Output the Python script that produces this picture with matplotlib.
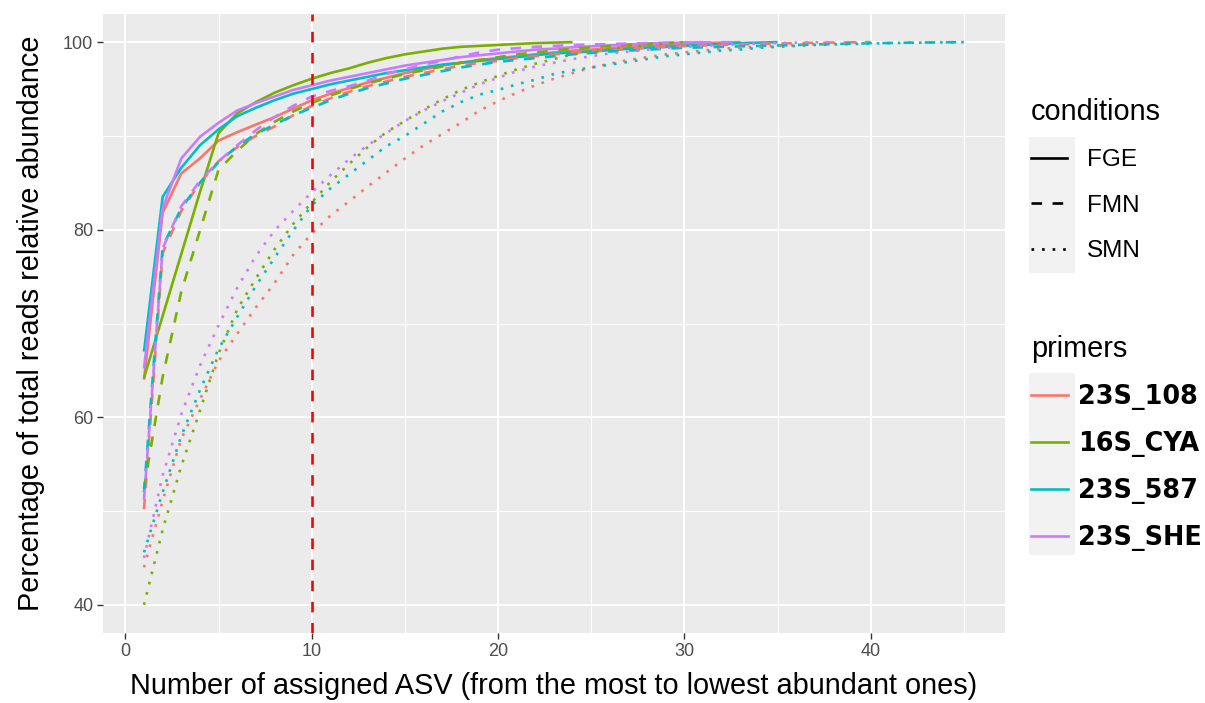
import matplotlib.pyplot as plt
from matplotlib.lines import Line2D
from matplotlib.patches import Rectangle

plt.rcParams['font.family'] = ['Liberation Sans', 'DejaVu Sans']

primers = ["23S_108", "16S_CYA", "23S_587", "23S_SHE"]
conditions = ["FGE", "FMN", "SMN"]
primer_colors = ["#F8766D", "#7CAE00", "#00BFC4", "#C77CFF"]
cutoff_asv = 10

# cumulative % of reads, one value per ASV rank (1, 2, 3, ...)
# FGE
fge_108 = [64.0, 81.8, 86.0, 87.6, 89.5, 90.4, 91.2, 92.0, 92.9, 93.8,
           94.5, 95.1, 95.7, 96.2, 96.7, 97.1, 97.5, 97.8, 98.1, 98.3,
           98.5, 98.7, 98.9, 99.1, 99.2, 99.35, 99.5, 99.6, 99.7, 99.8,
           99.9, 99.95, 100.0]
fge_cya = [64.2, 70.8, 77.4, 84.0, 90.3, 92.4, 93.6, 94.6, 95.4, 96.1,
           96.7, 97.2, 97.8, 98.3, 98.7, 99.0, 99.3, 99.5, 99.6, 99.7,
           99.8, 99.9, 99.95, 100.0]
fge_587 = [67.0, 83.5, 86.6, 89.0, 90.7, 92.1, 93.0, 93.8, 94.5, 95.0,
           95.5, 95.9, 96.3, 96.7, 97.0, 97.3, 97.6, 97.8, 98.0, 98.2,
           98.4, 98.6, 98.8, 98.9, 99.0, 99.15, 99.3, 99.4, 99.5, 99.6,
           99.7, 99.8, 99.9, 99.95, 100.0]
fge_she = [65.2, 82.3, 87.6, 89.9, 91.4, 92.7, 93.5, 94.2, 94.9, 95.4,
           95.9, 96.3, 96.7, 97.1, 97.5, 97.8, 98.1, 98.4, 98.6, 98.8,
           99.0, 99.2, 99.3, 99.45, 99.55, 99.65, 99.75, 99.85, 99.9, 99.95,
           100.0]
# FMN
fmn_108 = [50.2, 77.5, 82.0, 85.0, 87.3, 88.8, 90.0, 91.0, 92.2, 93.2,
           94.0, 94.7, 95.3, 95.8, 96.3, 96.7, 97.1, 97.5, 97.8, 98.0,
           98.3, 98.5, 98.7, 98.9, 99.0, 99.15, 99.3, 99.4, 99.5, 99.6,
           99.65, 99.7, 99.75, 99.8, 99.85, 99.9, 99.93, 99.96, 99.98, 100.0]
fmn_cya = [52.4, 64.3, 73.4, 79.9, 86.4, 88.4, 90.2, 91.5, 92.6, 93.5,
           94.3, 95.0, 95.6, 96.1, 96.6, 97.0, 97.4, 97.8, 98.1, 98.4,
           98.7, 98.9, 99.1, 99.3, 99.45, 99.6, 99.7, 99.8, 99.9, 100.0]
fmn_587 = [52.0, 78.2, 82.3, 85.0, 87.2, 88.9, 90.2, 91.2, 92.2, 93.0,
           93.8, 94.5, 95.1, 95.6, 96.1, 96.5, 96.9, 97.3, 97.6, 97.9,
           98.1, 98.3, 98.5, 98.7, 98.85, 99.0, 99.1, 99.2, 99.3, 99.4,
           99.45, 99.5, 99.55, 99.6, 99.65, 99.7, 99.75, 99.8, 99.84, 99.88,
           99.91, 99.94, 99.96, 99.98, 100.0]
fmn_she = [51.2, 78.0, 82.5, 85.2, 87.3, 89.0, 90.6, 92.0, 93.2, 94.2,
           94.8, 95.3, 95.9, 96.6, 97.1, 97.6, 98.0, 98.5, 98.9, 99.2,
           99.35, 99.5, 99.6, 99.7, 99.75, 99.8, 99.85, 99.9, 99.93, 99.95,
           99.97, 99.99, 100.0]
# SMN
smn_108 = [44.0, 51.1, 57.7, 61.9, 66.0, 68.9, 71.7, 74.3, 77.3, 79.6,
           81.5, 83.0, 84.6, 86.1, 87.6, 89.0, 90.2, 91.4, 92.7, 93.7,
           94.6, 95.4, 96.1, 96.7, 97.3, 97.7, 98.1, 98.4, 98.7, 98.9,
           99.1, 99.3, 99.4, 99.5, 99.6, 99.7, 99.8, 99.9, 99.95, 100.0]
smn_cya = [40.0, 48.0, 54.8, 60.7, 66.8, 71.5, 74.8, 77.9, 80.6, 82.9,
           85.1, 87.0, 88.8, 90.4, 91.6, 92.8, 93.9, 94.9, 95.7, 96.4,
           97.1, 97.7, 98.2, 98.7, 99.0, 99.3, 99.5, 99.7, 99.85, 100.0]
smn_587 = [45.6, 52.0, 58.0, 62.9, 67.3, 70.7, 74.0, 77.0, 79.9, 82.6,
           84.4, 85.9, 87.4, 88.9, 90.0, 91.3, 92.6, 93.6, 94.4, 94.9,
           95.5, 96.0, 96.6, 97.0, 97.3, 97.6, 97.9, 98.2, 98.5, 98.7,
           98.9, 99.1, 99.2, 99.4, 99.5, 99.6, 99.7, 99.75, 99.8, 99.85,
           99.9, 99.93, 99.96, 99.98, 100.0]
smn_she = [45.0, 53.8, 60.3, 65.5, 69.8, 73.8, 77.2, 79.9, 82.0, 84.0,
           85.8, 87.5, 89.0, 90.3, 91.6, 92.7, 93.7, 94.6, 95.5, 96.2,
           96.9, 97.4, 97.8, 98.2, 98.5, 98.8, 99.0, 99.2, 99.4, 99.5,
           99.6, 99.7, 99.8, 99.85, 99.9, 99.95, 99.98, 100.0]

curves = {
    "FGE": [fge_108, fge_cya, fge_587, fge_she],
    "FMN": [fmn_108, fmn_cya, fmn_587, fmn_she],
    "SMN": [smn_108, smn_cya, smn_587, smn_she],
}
styles = {"FGE": "-", "FMN": (0, (4, 4)), "SMN": (0, (1, 3))}
lw = 1.9

fig = plt.figure(figsize=(12.05, 7.03), dpi=100)
ax = fig.add_axes([103 / 1205, 70 / 703, 902 / 1205, 619 / 703])
ax.set_facecolor("#EBEBEB")

for cond in conditions:
    for vals, col in zip(curves[cond], primer_colors):
        xs = list(range(1, len(vals) + 1))
        ax.plot(xs, vals, color=col, lw=lw, linestyle=styles[cond],
                solid_capstyle='butt', dash_capstyle='butt')

ax.axvline(cutoff_asv, color="#FF0000", lw=lw, linestyle=(0, (4, 4)))

ax.set_xlim(-1.2, 47.2)
ax.set_ylim(37, 103)
ax.set_xticks([0, 10, 20, 30, 40])
ax.set_xticks([5, 15, 25, 35, 45], minor=True)
ax.set_yticks([40, 60, 80, 100])
ax.set_yticks([50, 70, 90], minor=True)
ax.grid(which='major', color='white', lw=1.5)
ax.grid(which='minor', color='white', lw=0.8)
ax.set_axisbelow(True)
for s in ax.spines.values():
    s.set_visible(False)
ax.tick_params(which='major', length=4, width=1, color='#333333',
               labelsize=13, labelcolor='#4D4D4D', pad=3)
ax.tick_params(which='minor', length=0)

ax.set_xlabel("Number of assigned ASV (from the most to lowest abundant ones)",
              fontsize=20.8, labelpad=9)
ax.set_ylabel("Percentage of total reads relative abundance",
              fontsize=20.8, labelpad=13)

# legends
cond_handles = [Line2D([], [], color='black', lw=lw, linestyle=styles[c])
                for c in conditions]
leg1 = fig.legend(cond_handles, conditions, title="conditions",
                  loc='upper left', bbox_to_anchor=(1031 / 1205, 1 - 98 / 703),
                  frameon=False, prop={'family': 'Liberation Sans', 'size': 17.5},
                  title_fontproperties={'family': 'Liberation Sans', 'size': 20.8},
                  handlelength=1.5, handletextpad=0.8, labelspacing=0.96,
                  alignment='left', borderpad=0, borderaxespad=0)

prim_handles = [Line2D([], [], color=c, lw=lw) for c in primer_colors]
leg2 = fig.legend(prim_handles, primers, title="primers",
                  loc='upper left', bbox_to_anchor=(1031 / 1205, 1 - 335 / 703),
                  frameon=False,
                  prop={'family': 'DejaVu Sans', 'weight': 'bold', 'size': 18.4},
                  title_fontproperties={'family': 'Liberation Sans', 'size': 20.8},
                  handlelength=1.45, handletextpad=0.4, labelspacing=0.82,
                  alignment='left', borderpad=0, borderaxespad=0)

for y0, h in [(137, 136), (373, 182)]:
    fig.patches.append(Rectangle((1029 / 1205, 1 - (y0 + h) / 703), 46 / 1205, h / 703,
                                 transform=fig.transFigure, facecolor="#F2F2F2",
                                 edgecolor='none', zorder=0))

fig.savefig("out.png", dpi=100)
